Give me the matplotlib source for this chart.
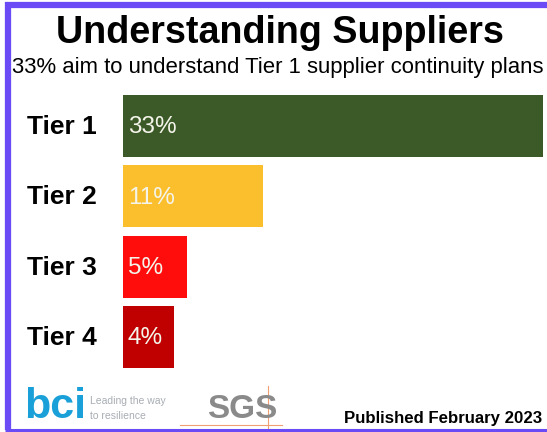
import matplotlib
matplotlib.use("Agg")
import matplotlib.pyplot as plt
from matplotlib.lines import Line2D

plt.rcParams['font.family'] = ['Liberation Sans', 'DejaVu Sans']

categories = ["Tier 1", "Tier 2", "Tier 3", "Tier 4"]
values = [33, 11, 5, 4]
value_labels = ["33%", "11%", "5%", "4%"]
colors = ["#3b5a27", "#fbbf2e", "#ff0d0d", "#c00000"]

title = "Understanding Suppliers"
subtitle = "33% aim to understand Tier 1 supplier continuity plans"
footer = "Published February 2023"

W, H = 547, 432
fig = plt.figure(figsize=(W / 100, H / 100), dpi=100)
fig.patch.set_facecolor("white")

def fx(px):
    return px / W

def fy(py):
    return 1 - py / H

# bar axes
ax = fig.add_axes([fx(123), fy(372.2), 420 / W, 281.4 / H])
ypos = list(range(len(categories)))
ax.barh(ypos, values, height=0.88, color=colors)
ax.set_xlim(0, 33)
ax.set_ylim(3.5, -0.5)
for s in ax.spines.values():
    s.set_visible(False)
ax.set_xticks([])
ax.set_yticks([])
for y, c in zip(ypos, categories):
    ax.text(-96 / 420, y + 0.015, c, transform=ax.get_yaxis_transform(), fontsize=19,
            fontweight="bold", ha="left", va="center")
for y, v, t in zip(ypos, values, value_labels):
    ax.text(0.38, y + 0.02, t, color="#f4f4ea", fontsize=17.5, va="center", ha="left")

# titles
fig.text(fx(280), fy(33), title, fontsize=27.2, fontweight="bold", ha="center", va="center")
fig.text(fx(12), fy(67), subtitle, fontsize=15.9, ha="left", va="center")
fig.text(fx(344), fy(418), footer, fontsize=12.1, fontweight="bold", ha="left", va="center")

# logos approximated with text
fig.text(fx(24), fy(407), "bci", fontsize=31, color="#1aa0d8", ha="left", va="center", fontweight="bold")
fig.text(fx(90), fy(401), "Leading the way", fontsize=7.5, color="#a8adb3", ha="left", va="center")
fig.text(fx(90), fy(416), "to resilience", fontsize=7.5, color="#a8adb3", ha="left", va="center")
fig.text(fx(207), fy(410), "SGS", fontsize=24, color="#8a8a8a", ha="left", va="center", fontweight="bold")
fig.add_artist(Line2D([fx(180), fx(282)], [fy(425), fy(425)], color="#f0a070", lw=0.8))
fig.add_artist(Line2D([fx(268), fx(268)], [fy(386), fy(432)], color="#f0a070", lw=0.8))

# purple border
pc = "#6b4bf5"
fig.add_artist(Line2D([fx(8), fx(8)], [fy(2), fy(430)], color=pc, lw=4.5, solid_capstyle="butt"))
fig.add_artist(Line2D([fx(5), fx(547)], [fy(5), fy(5)], color=pc, lw=4.5, solid_capstyle="butt"))
fig.add_artist(Line2D([fx(5), fx(547)], [fy(429.5), fy(429.5)], color=pc, lw=2.2, solid_capstyle="butt"))

fig.savefig("out.png", dpi=100, facecolor="white")
